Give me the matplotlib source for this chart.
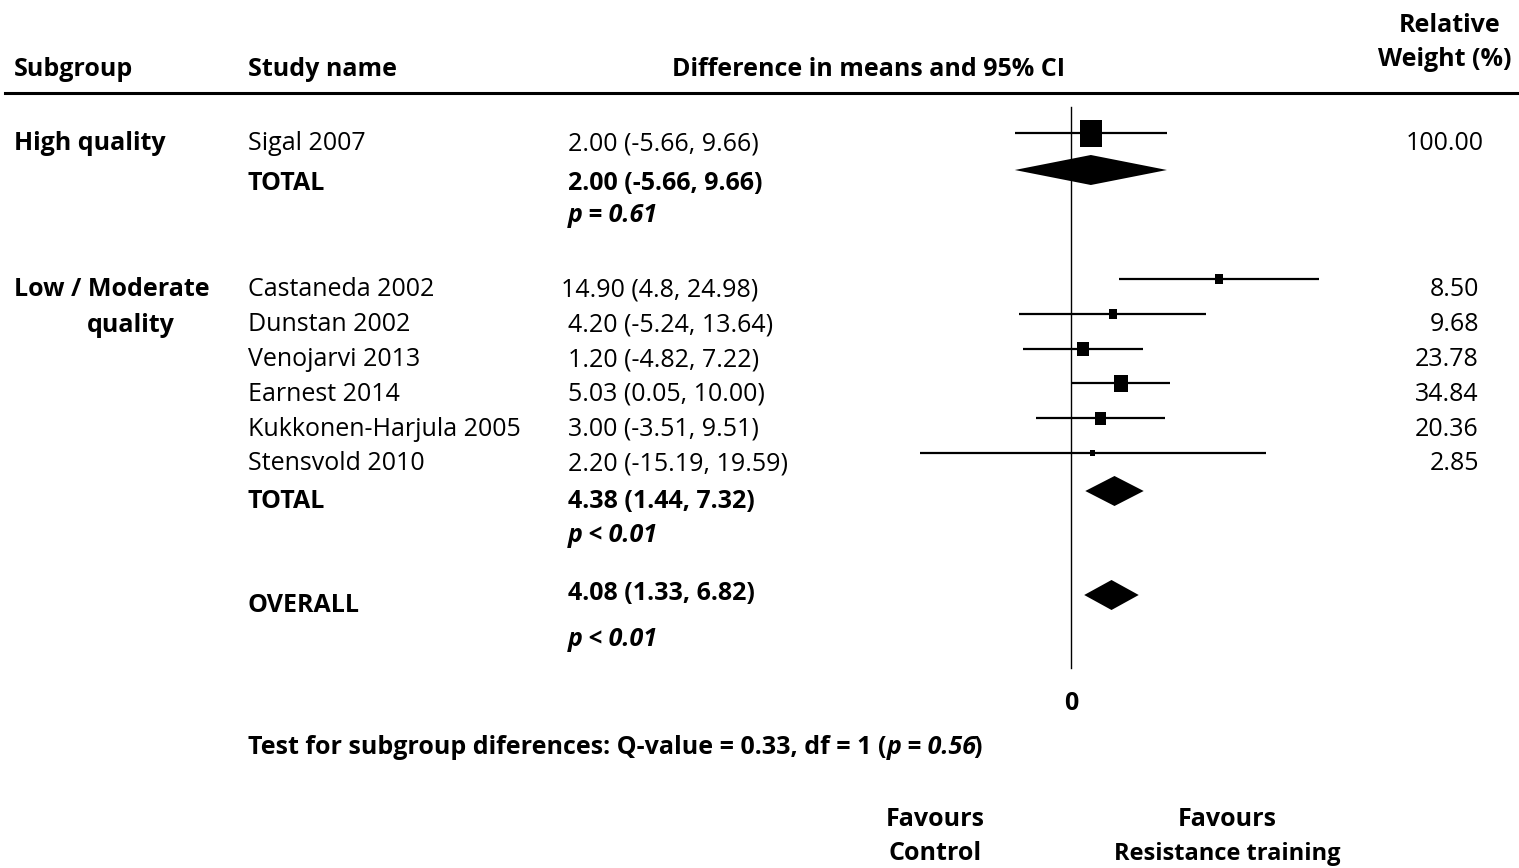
import matplotlib
matplotlib.use('Agg')
import matplotlib.pyplot as plt
from matplotlib.patches import Rectangle, Polygon
from matplotlib.transforms import blended_transform_factory

plt.rcParams['font.family'] = ['Open Sans', 'DejaVu Sans']

# High quality subgroup
high_studies = ['Sigal 2007']
high_means = [2.00]
high_lo = [-5.66]
high_hi = [9.66]
high_weights = [100.00]
high_ci_txt = ['2.00 (-5.66, 9.66)']
high_total = (2.00, -5.66, 9.66)
high_total_txt = '2.00 (-5.66, 9.66)'
high_p = 'p = 0.61'

# Low / moderate quality subgroup
low_studies = ['Castaneda 2002', 'Dunstan 2002', 'Venojarvi 2013', 'Earnest 2014',
               'Kukkonen-Harjula 2005', 'Stensvold 2010']
low_means = [14.90, 4.20, 1.20, 5.03, 3.00, 2.20]
low_lo = [4.8, -5.24, -4.82, 0.05, -3.51, -15.19]
low_hi = [24.98, 13.64, 7.22, 10.00, 9.51, 19.59]
low_weights = [8.50, 9.68, 23.78, 34.84, 20.36, 2.85]
low_ci_txt = ['14.90 (4.8, 24.98)', '4.20 (-5.24, 13.64)', '1.20 (-4.82, 7.22)',
              '5.03 (0.05, 10.00)', '3.00 (-3.51, 9.51)', '2.20 (-15.19, 19.59)']
low_total = (4.38, 1.44, 7.32)
low_total_txt = '4.38 (1.44, 7.32)'
low_p = 'p < 0.01'

overall = (4.08, 1.33, 6.82)
overall_txt = '4.08 (1.33, 6.82)'
overall_p = 'p < 0.01'

# figure geometry (pixels)
W, H = 1519, 868
ZERO_PX = 1071
PX_PER_UNIT = 9.93
FS = 18

fig = plt.figure(figsize=(W / 100, H / 100), dpi=100)
ax = fig.add_axes([0, 0, 1, 1])
ax.set_xlim(-ZERO_PX / PX_PER_UNIT, (W - ZERO_PX) / PX_PER_UNIT)
ax.set_ylim(H, 0)
ax.axis('off')

# x in pixels from the left edge, y in pixel rows
tr = blended_transform_factory(fig.transFigure, ax.transData)


def txt(x, y, s, ha='left', weight='normal', style='normal', size=FS):
    return ax.text(x / W, y, s, transform=tr, ha=ha, va='center_baseline',
                   fontsize=size, fontweight=weight, fontstyle=style)


def study(y, mean, lo, hi, w):
    ax.plot([lo, hi], [y, y], color='black', lw=1.6, solid_capstyle='butt')
    side = (1.5 + 2.1 * w ** 0.5)
    bw = side / PX_PER_UNIT
    bh = side * 1.2
    ax.add_patch(Rectangle((mean - bw / 2, y - bh / 2), bw, bh,
                           facecolor='black', edgecolor='none', zorder=3))


def diamond(y, est, lo, hi, half=15):
    ax.add_patch(Polygon([(lo, y), (est, y - half), (hi, y), (est, y + half)],
                         closed=True, facecolor='black', edgecolor='none', zorder=3))


# header
txt(14, 67, 'Subgroup', weight='bold')
txt(248, 67, 'Study name', weight='bold')
txt(868, 67, 'Difference in means and 95% CI', ha='center', weight='bold')
txt(1450, 22, 'Relative', ha='center', weight='bold')
txt(1512, 56, 'Weight (%)', ha='right', weight='bold')
ax.plot([-ZERO_PX / PX_PER_UNIT + 5 / PX_PER_UNIT, (W - ZERO_PX) / PX_PER_UNIT], [93, 93],
        color='black', lw=2.2, clip_on=False)

# zero line
ax.plot([0, 0], [107, 668], color='black', lw=1.0)
txt(1071, 700, '0', ha='center', weight='bold')

MARK_OFF = 8

# high quality
y0 = 141
txt(14, y0, 'High quality', weight='bold')
for i, name in enumerate(high_studies):
    y = y0 + 35 * i
    txt(248, y, name)
    txt(568, y, high_ci_txt[i])
    txt(1484, y, f'{high_weights[i]:.2f}', ha='right')
    study(y - MARK_OFF, high_means[i], high_lo[i], high_hi[i], high_weights[i])
txt(248, 180, 'TOTAL', weight='bold')
txt(568, 180, high_total_txt, weight='bold')
diamond(170, *high_total)
txt(568, 213, high_p, weight='bold', style='italic')

# low / moderate quality
y0 = 287
txt(14, y0, 'Low / Moderate', weight='bold')
txt(87, y0 + 35, 'quality', weight='bold')
for i, name in enumerate(low_studies):
    y = y0 + 34.8 * i
    txt(248, y, name)
    txt(568 if i else 561, y, low_ci_txt[i])
    txt(1479, y, f'{low_weights[i]:.2f}', ha='right')
    study(y - MARK_OFF, low_means[i], low_lo[i], low_hi[i], low_weights[i])
txt(248, 498, 'TOTAL', weight='bold')
txt(568, 498, low_total_txt, weight='bold')
diamond(491, *low_total)
txt(568, 532, low_p, weight='bold', style='italic')

# overall
txt(248, 603, 'OVERALL', weight='bold')
txt(568, 591, overall_txt, weight='bold')
diamond(595, *overall)
txt(568, 637, overall_p, weight='bold', style='italic')

# subgroup difference test, built from pieces so the p-value can be italic
t1 = ax.text(248 / W, 745, 'Test for subgroup diferences: Q-value = 0.33, df = 1 (',
             transform=tr, ha='left', va='center_baseline', fontsize=FS, fontweight='bold')
t2 = ax.annotate('p = 0.56', xy=(1, 0), xycoords=t1, ha='left', va='bottom',
                 fontsize=FS, fontweight='bold', fontstyle='italic')
ax.annotate(')', xy=(1, 0), xycoords=t2, xytext=(-2, 0), textcoords='offset points',
            ha='left', va='bottom', fontsize=FS, fontweight='bold')

# direction labels
txt(935, 816, 'Favours', ha='center', weight='bold')
txt(935, 851, 'Control', ha='center', weight='bold')
txt(1227, 816, 'Favours', ha='center', weight='bold')
txt(1227, 851, 'Resistance training', ha='center', weight='bold', size=FS - 1)

fig.savefig('out.png', dpi=100)
